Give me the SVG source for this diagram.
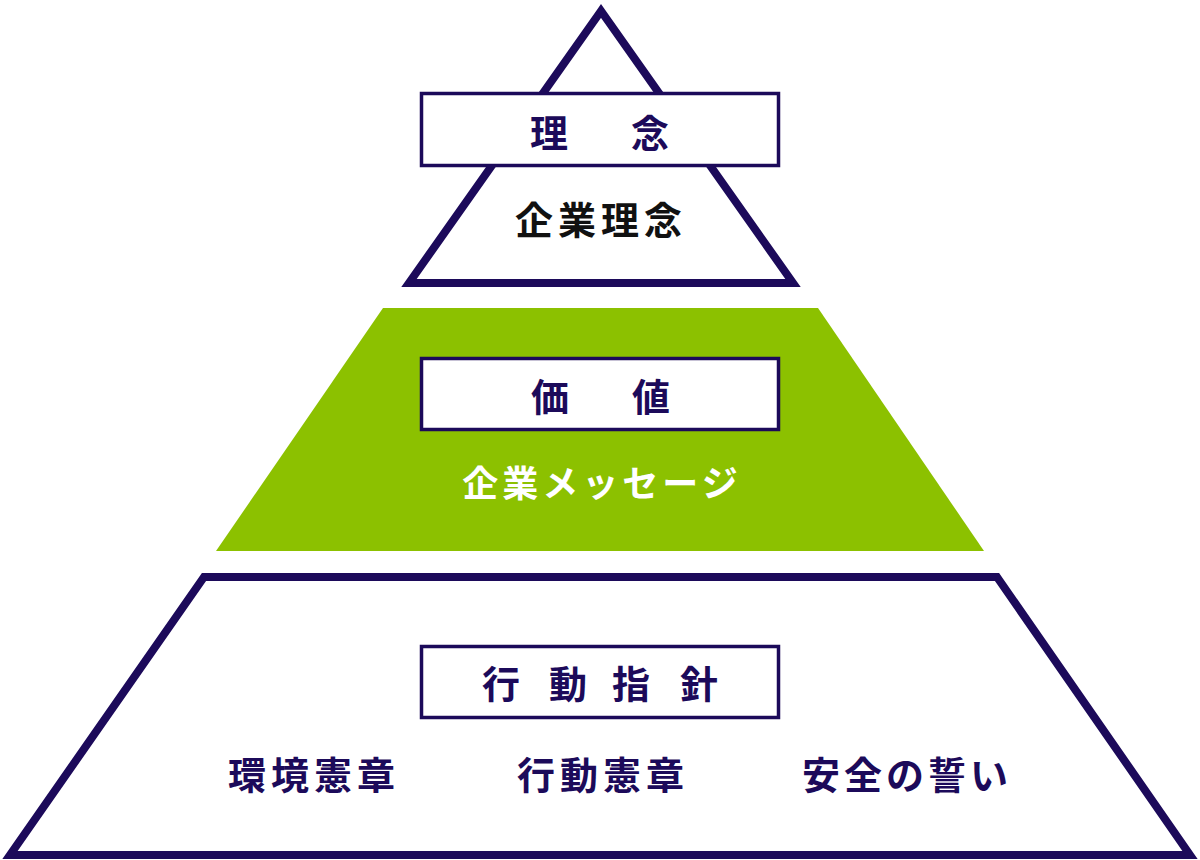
<svg xmlns="http://www.w3.org/2000/svg" width="1200" height="860" viewBox="0 0 1200 860">
<style>
.outline{fill:#fff;stroke:#1c0a5a;stroke-width:8;stroke-linejoin:miter;stroke-miterlimit:10}
.lbox{fill:#fff;stroke:#1c0a5a;stroke-width:3.5}
.t{font-family:"Noto Sans CJK JP","Noto Sans CJK SC",sans-serif;font-weight:bold;text-anchor:middle}
.head{font-size:38px;fill:#1c0a5a}
.sub{font-size:38px;fill:#1c0a5a;letter-spacing:5px}
</style>
<rect width="1200" height="860" fill="#fff"/>
<g id="top">
<polygon class="outline" points="601,11 409,283 793,283"/>
<rect class="lbox" x="421.5" y="93.5" width="357" height="72"/>
<text class="t head"><tspan x="549" y="147">理</tspan><tspan x="650" y="147">念</tspan></text>
<text class="t" x="601" y="234" font-size="38" fill="#111" style="letter-spacing:5px">企業理念</text>
</g>
<g id="middle">
<polygon points="383,308 818,308 984,551 216,551" fill="#8cc100"/>
<rect class="lbox" x="421.5" y="358.5" width="357" height="71"/>
<text class="t head"><tspan x="550" y="411">価</tspan><tspan x="651" y="411">値</tspan></text>
<text class="t" x="602" y="497" font-size="36" fill="#fff" style="letter-spacing:4px">企業メッセージ</text>
</g>
<g id="bottom">
<polygon class="outline" points="204,577 997,577 1190,855 10,855"/>
<rect class="lbox" x="421.5" y="646.5" width="357" height="71"/>
<text class="t head"><tspan x="501" y="698">行</tspan><tspan x="568" y="698">動</tspan><tspan x="631" y="698">指</tspan><tspan x="699" y="698">針</tspan></text>
<text class="t sub" x="314" y="789">環境憲章</text>
<text class="t sub" x="603" y="789">行動憲章</text>
<text class="t sub" x="907" y="789" style="letter-spacing:4px">安全の誓い</text>
</g>
<g id="connectors"/>
</svg>
